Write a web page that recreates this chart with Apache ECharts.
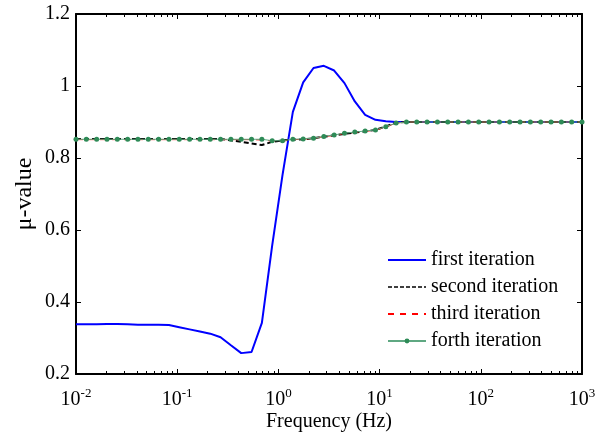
<!DOCTYPE html>
<html>
<head>
<meta charset="utf-8">
<script src="https://cdn.jsdelivr.net/npm/echarts@6/dist/echarts.min.js"></script>
<style>
  html, body { margin: 0; padding: 0; background: #fff; }
  #chart { width: 604px; height: 432px; }
</style>
</head>
<body>
<div id="chart"></div>
<script>
// sample frequencies (Hz), log spaced 1e-2 .. 1e3
var freq = [0.01, 0.01265, 0.0160, 0.02024, 0.0256, 0.03237, 0.04095, 0.05179, 0.06551, 0.08286,
    0.1048, 0.1326, 0.1677, 0.2121, 0.2683, 0.3393, 0.4292, 0.5429, 0.6866, 0.8685,
    1.0985, 1.3895, 1.7575, 2.223, 2.8118, 3.5565, 4.4984, 5.6899, 7.1969, 9.1029,
    11.514, 14.563, 18.42, 23.3, 29.471, 37.276, 47.149, 59.636, 75.431, 95.41,
    120.68, 152.64, 193.07, 244.2, 308.9, 390.7, 494.2, 625.1, 790.6, 1000];

var firstIter = [0.338, 0.338, 0.338, 0.339, 0.339, 0.338, 0.337, 0.337, 0.337, 0.336,
    0.330, 0.324, 0.318, 0.312, 0.302, 0.280, 0.258, 0.261, 0.342, 0.557,
    0.753, 0.928, 1.010, 1.050, 1.056, 1.043, 1.008, 0.957, 0.920, 0.906,
    0.902, 0.900, 0.900, 0.900, 0.900, 0.900, 0.900, 0.900, 0.900, 0.900,
    0.900, 0.900, 0.900, 0.900, 0.900, 0.900, 0.900, 0.900, 0.900, 0.900];

var secondIter = [0.853, 0.853, 0.853, 0.853, 0.853, 0.853, 0.853, 0.853, 0.853, 0.853,
    0.853, 0.853, 0.853, 0.853, 0.853, 0.849, 0.845, 0.840, 0.836, 0.845,
    0.849, 0.851, 0.852, 0.855, 0.859, 0.863, 0.867, 0.871, 0.874, 0.878,
    0.888, 0.898, 0.900, 0.900, 0.900, 0.900, 0.900, 0.900, 0.900, 0.900,
    0.900, 0.900, 0.900, 0.900, 0.900, 0.900, 0.900, 0.900, 0.900, 0.900];

var thirdIter = [0.851, 0.851, 0.851, 0.851, 0.851, 0.851, 0.851, 0.851, 0.851, 0.851,
    0.851, 0.851, 0.851, 0.851, 0.851, 0.851, 0.851, 0.851, 0.850, 0.847,
    0.847, 0.851, 0.852, 0.855, 0.859, 0.863, 0.868, 0.871, 0.874, 0.877,
    0.886, 0.897, 0.900, 0.900, 0.900, 0.900, 0.900, 0.900, 0.900, 0.900,
    0.900, 0.900, 0.900, 0.900, 0.900, 0.900, 0.900, 0.900, 0.900, 0.900];

var forthIter = [0.852, 0.852, 0.852, 0.852, 0.852, 0.852, 0.852, 0.852, 0.852, 0.852,
    0.852, 0.852, 0.852, 0.852, 0.852, 0.852, 0.852, 0.852, 0.852, 0.848,
    0.848, 0.852, 0.853, 0.855, 0.860, 0.864, 0.869, 0.872, 0.875, 0.878,
    0.887, 0.897, 0.900, 0.900, 0.900, 0.900, 0.900, 0.900, 0.900, 0.900,
    0.900, 0.900, 0.900, 0.900, 0.900, 0.900, 0.900, 0.900, 0.900, 0.900];

var seriesNames = ['first iteration', 'second iteration', 'third iteration', 'forth iteration'];
var majorTicks = [0.01, 0.1, 1, 10, 100, 1000];
var minorTicks = [0.02, 0.03, 0.04, 0.05, 0.06, 0.07, 0.08, 0.09,
    0.2, 0.3, 0.4, 0.5, 0.6, 0.7, 0.8, 0.9,
    2, 3, 4, 5, 6, 7, 8, 9,
    20, 30, 40, 50, 60, 70, 80, 90,
    200, 300, 400, 500, 600, 700, 800, 900];

var FONT = '"Liberation Serif", "Times New Roman", serif';

function pairs(ys) {
    var out = [];
    for (var i = 0; i < freq.length; i++) {
        out.push([freq[i], ys[i]]);
    }
    return out;
}

// x axis builder: log scale, same range for every copy
function logAxis(pos, ticks, len, withLabel, withLine) {
    return {
        type: 'log',
        logBase: 10,
        position: pos,
        min: 0.01,
        max: 1000,
        name: withLabel ? 'Frequency (Hz)' : '',
        nameLocation: 'middle',
        nameGap: 38,
        nameMoveOverlap: false,
        nameTextStyle: { fontFamily: FONT, fontSize: 20, color: '#000' },
        axisLine: { show: withLine, lineStyle: { color: '#000', width: 2 } },
        axisTick: { show: true, inside: true, length: len, customValues: ticks, lineStyle: { color: '#000', width: 1 } },
        axisLabel: {
            show: withLabel,
            customValues: majorTicks,
            margin: 13,
            formatter: function (v) {
                var e = Math.round(Math.log(v) / Math.LN10);
                return '{b|10}{s|' + e + '}';
            },
            rich: {
                b: { fontFamily: FONT, fontSize: 20, color: '#000' },
                s: { fontFamily: FONT, fontSize: 13, color: '#000', padding: [0, 0, 12, 0] }
            }
        },
        splitLine: { show: false },
        minorTick: { show: false },
        minorSplitLine: { show: false }
    };
}

function valAxis(pos, withLabel) {
    return {
        type: 'value',
        position: pos,
        min: 0.2,
        max: 1.2,
        interval: 0.2,
        name: withLabel ? 'μ-value' : '',
        nameLocation: 'middle',
        nameGap: 39,
        nameRotate: 90,
        nameMoveOverlap: false,
        nameTextStyle: { fontFamily: FONT, fontSize: 24, color: '#000' },
        axisLine: { show: true, lineStyle: { color: '#000', width: 2 } },
        axisTick: { show: true, inside: true, length: 5, lineStyle: { color: '#000', width: 1 } },
        axisLabel: { show: withLabel, margin: 6, fontFamily: FONT, fontSize: 20, color: '#000' },
        splitLine: { show: false }
    };
}

var chart = echarts.init(document.getElementById('chart'), null, { renderer: 'canvas' });

// hide the marker in the legend for the plain line series
var noDot = { opacity: 0 };

var option = {
    backgroundColor: '#fff',
    animation: false,
    grid: { left: 76, right: 22, top: 14, bottom: 58, containLabel: false, outerBoundsMode: 'none' },
    legend: {
        orient: 'vertical',
        left: 387,
        top: 250,
        padding: 0,
        itemWidth: 38,
        itemHeight: 6,
        itemGap: 7,
        textStyle: { fontFamily: FONT, fontSize: 20, color: '#000', lineHeight: 20 },
        data: [
            { name: seriesNames[0], itemStyle: noDot },
            { name: seriesNames[1], itemStyle: noDot, lineStyle: { width: 1.5, type: [4, 2] } },
            { name: seriesNames[2], itemStyle: noDot, lineStyle: { type: [6, 6] } },
            { name: seriesNames[3] }
        ]
    },
    // 0 bottom, 1 top, 2 flips to bottom, 3 flips to top
    xAxis: [
        logAxis('bottom', majorTicks, 5, true, true),
        logAxis('top', majorTicks, 5, false, true),
        logAxis('top', minorTicks, 3, false, false),
        logAxis('bottom', minorTicks, 3, false, false)
    ],
    yAxis: [
        valAxis('left', true),
        valAxis('right', false)
    ],
    series: [
        {
            name: seriesNames[0],
            type: 'line',
            data: pairs(firstIter),
            symbol: 'none',
            lineStyle: { color: '#0000ff', width: 2 },
            itemStyle: { color: '#0000ff' }
        },
        {
            name: seriesNames[1],
            type: 'line',
            data: pairs(secondIter),
            symbol: 'none',
            lineStyle: { color: '#000', width: 2, type: [5, 3] },
            itemStyle: { color: '#000' }
        },
        {
            name: seriesNames[2],
            type: 'line',
            data: pairs(thirdIter),
            symbol: 'none',
            lineStyle: { color: '#ff0000', width: 1, type: [7, 5] },
            itemStyle: { color: '#ff0000' }
        },
        {
            name: seriesNames[3],
            type: 'line',
            data: pairs(forthIter),
            symbol: 'circle',
            symbolSize: 5,
            lineStyle: { color: '#5fa882', width: 1 },
            itemStyle: { color: '#2e8b57' }
        }
    ]
};

chart.setOption(option);
</script>
</body>
</html>
